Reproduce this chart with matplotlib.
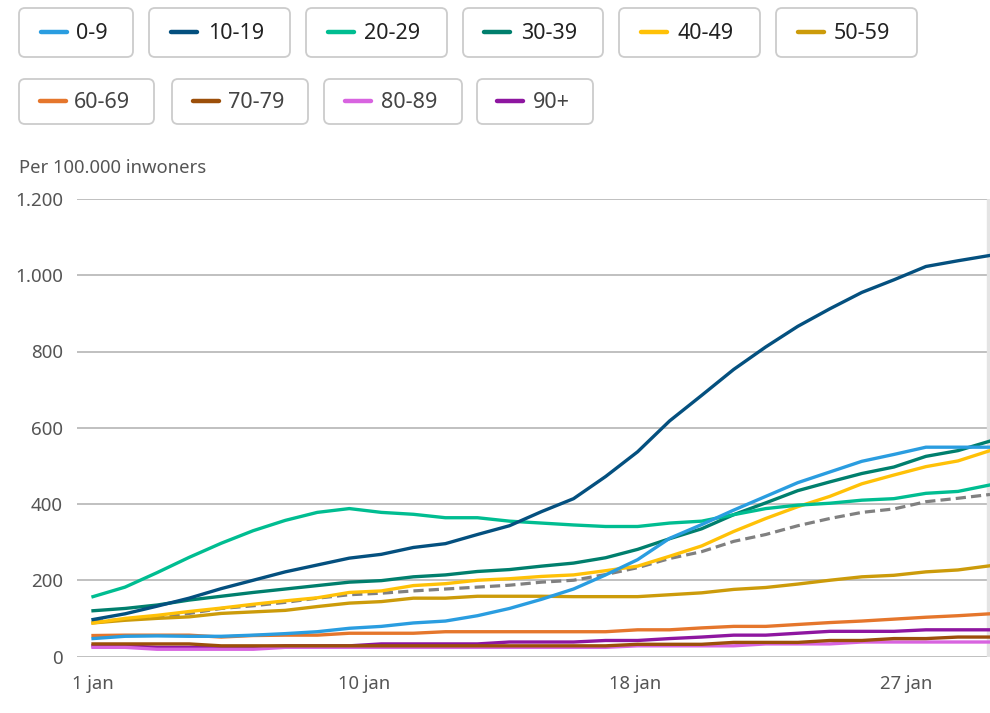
#!/usr/bin/env python3
import numpy as np
from matplotlib import pyplot as plt
from matplotlib.patches import FancyBboxPatch

plt.rcParams['font.family'] = ['Noto Sans', 'DejaVu Sans']

# waarden per dag, 1 t/m 29 jan
age_0_9 = [47,53,54,53,53,56,60,65,74,79,88,93,107,126,150,177,214,254,310,346,384,420,456,484,512,530,549,549,549]
age_10_19 = [97,112,132,153,178,200,222,240,258,268,286,296,320,343,380,414,472,537,618,685,753,812,866,912,955,988,1023,1038,1052]
age_20_29 = [157,182,220,260,297,330,357,378,388,378,373,364,364,355,350,345,341,341,350,355,372,388,397,402,410,414,428,433,450]
age_30_39 = [120,126,135,148,158,168,177,186,195,199,209,214,223,228,237,245,259,281,309,335,372,403,435,458,480,497,525,540,565]
age_40_49 = [88,100,108,118,127,137,146,154,168,172,186,191,200,204,210,214,225,237,263,290,328,362,393,420,453,476,498,513,540]
age_50_59 = [88,95,100,104,113,117,121,131,140,144,153,153,158,158,158,157,157,157,162,167,176,181,190,200,209,213,222,227,238]
age_60_69 = [55,56,56,56,51,55,56,56,61,61,61,65,65,65,65,65,65,70,70,75,79,79,84,89,93,98,103,107,112]
age_70_79 = [33,33,33,33,28,28,28,28,28,28,28,28,28,28,28,28,28,32,32,32,37,37,37,42,42,47,47,51,51]
age_80_89 = [24,24,19,19,19,19,24,24,24,24,24,24,24,24,24,24,24,28,28,28,28,33,33,33,38,38,38,38,38]
age_90 = [28,28,24,24,24,24,28,28,28,33,33,33,33,38,38,38,42,42,47,51,56,56,61,66,66,66,70,70,70]
average = [92,97,104,113,126,133,142,153,162,166,172,177,182,187,195,200,215,233,257,275,302,320,343,362,378,387,406,415,425]

labels = ['0-9', '10-19', '20-29', '30-39', '40-49', '50-59', '60-69', '70-79', '80-89', '90+']
series = [age_0_9, age_10_19, age_20_29, age_30_39, age_40_49, age_50_59, age_60_69, age_70_79, age_80_89, age_90]
colors = ['#2a9de0', '#04507f', '#00bd91', '#007f6d', '#ffc107', '#cc9b0a', '#e5762c', '#9c4f0a', '#d864e0', '#8e16a0']

y_ticks = [0, 200, 400, 600, 800, 1000, 1200]
y_tick_labels = ['0', '200', '400', '600', '800', '1.000', '1.200']
x_tick_labels = ['1 jan', '10 jan', '18 jan', '27 jan']

W, H = 990, 713
fig = plt.figure(figsize=(W / 100, H / 100), dpi=100)

# hoofdgrafiek
ax = fig.add_axes([77 / W, 1 - 656.5 / H, (W - 77) / W, 457.5 / H])
days = np.arange(len(age_0_9))
ax.set_xlim(-0.5, 28)
ax.set_ylim(0, 1200)
ax.axvspan(27.9, 28, color='#e4e4e4', zorder=1)
ax.plot(days, average, color='#808080', lw=2.3, dashes=(3.2, 1.6), zorder=2, clip_on=True)
for i in range(len(series) - 1, -1, -1):
    ax.plot(days, series[i], color=colors[i], lw=2.4, zorder=3, solid_joinstyle='round')

for s in ax.spines.values():
    s.set_visible(False)
ax.set_yticks(y_ticks)
ax.set_yticklabels(y_tick_labels, fontsize=13.5, color='#555555')
ax.set_xticks([0, 8.46, 16.92, 25.38])
ax.set_xticklabels(x_tick_labels, fontsize=13.3, color='#555555')
ax.tick_params(axis='both', length=0)
ax.tick_params(axis='y', pad=10)
ax.tick_params(axis='x', pad=13.5)
ax.grid(axis='y', color='#bbbbbb', lw=1.3, zorder=0)
ax.set_axisbelow(True)
for t in ax.get_yticklabels() + ax.get_xticklabels():
    t.set_clip_on(False)

# legenda in pixels van het plaatje
over = fig.add_axes([0, 0, 1, 1], facecolor='none')
over.set_xlim(0, W)
over.set_ylim(H, 0)
over.axis('off')
boxes = [(19, 133, 8, 57, 41, 76), (149, 290, 8, 57, 171, 208), (306, 447, 8, 57, 328, 364),
         (463, 603, 8, 57, 484, 521), (619, 760, 8, 57, 641, 677), (776, 917, 8, 57, 798, 834),
         (19, 154, 79, 124, 40, 74), (172, 308, 79, 124, 193, 228), (324, 462, 79, 124, 345, 381),
         (477, 593, 79, 124, 497, 533)]
for n, ((x0, x1, y0, y1, lx, tx), name, c) in enumerate(zip(boxes, labels, colors)):
    over.add_patch(FancyBboxPatch((x0 + 6, y0 + 6), x1 - x0 - 12, y1 - y0 - 12,
                                  boxstyle='round,pad=6,rounding_size=6', fc='white', ec='#cccccc', lw=1.3))
    ym = (y0 + y1) / 2 - 0.5
    over.plot([lx, lx + 26], [ym, ym], color=c, lw=3.2, solid_capstyle='round')
    over.text(tx, ym + 1.5, name, fontsize=15.5, color='#222222' if n < 6 else '#444444', va='center', ha='left')

over.text(19, 168, 'Per 100.000 inwoners', fontsize=13.3, color='#555555', va='center', ha='left')

plt.savefig('out.png', dpi=100)
